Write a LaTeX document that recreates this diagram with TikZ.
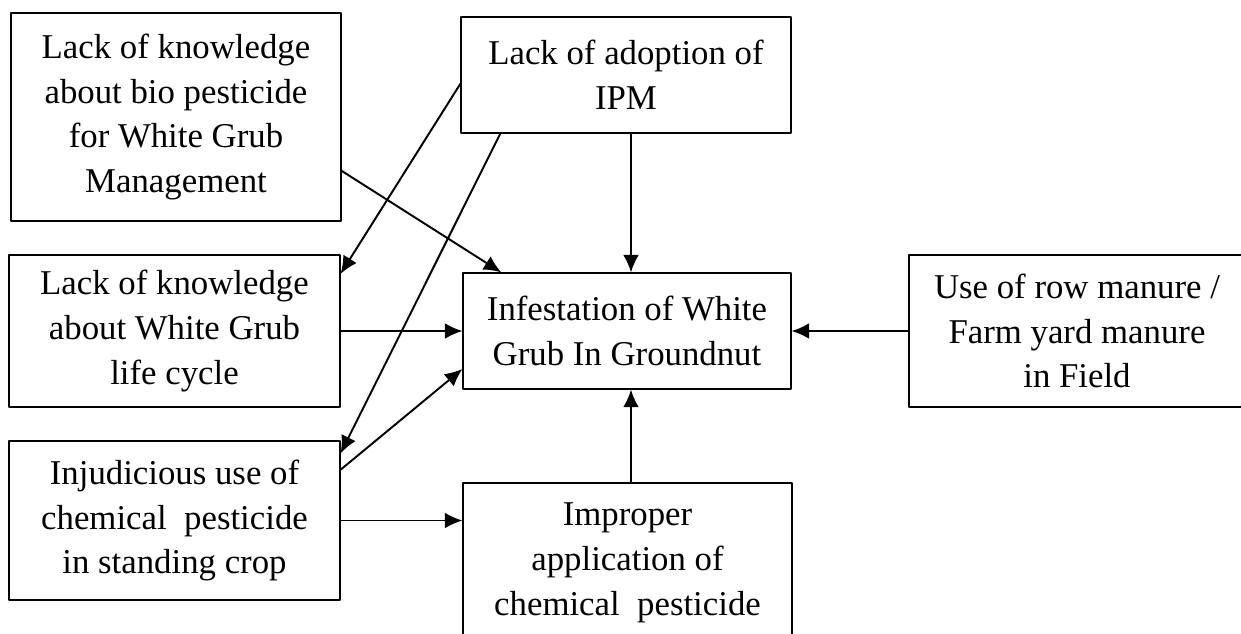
\documentclass[tikz,border=0pt]{standalone}
\usepackage{fontspec}
\setmainfont{Liberation Serif}
\usetikzlibrary{arrows.meta}

\begin{document}
\begin{tikzpicture}[x=0.02cm,y=-0.02cm,line cap=round,line join=round,
  >={Latex[length=10pt,width=9pt]},
  every node/.style={inner sep=0pt,font=\fontsize{19.8}{25.5}\selectfont},
  cause/.style={draw,line width=0.7pt,rectangle,align=center},
  link/.style={->,line width=1.1pt}]
  \useasboundingbox (0,0) rectangle (1241,633);
  \clip (0,0) rectangle (1241,633);
  % boxes
  \node[cause,minimum width=6.6cm,minimum height=4.16cm] (bio) at (176,117)
    {Lack of knowledge\\about bio pesticide\\for White Grub\\Management};
  \node[cause,minimum width=6.6cm,minimum height=2.32cm] (ipm) at (626,75)
    {Lack of adoption of\\IPM};
  \node[cause,minimum width=6.56cm,minimum height=2.32cm] (inf) at (627,331)
    {Infestation of White\\Grub In Groundnut};
  \node[cause,minimum width=6.62cm,minimum height=3.04cm] (life) at (174.5,331)
    {Lack of knowledge\\about White Grub\\life cycle};
  \node[cause,minimum width=6.62cm,minimum height=3.18cm] (inj) at (174.5,520.5)
    {Injudicious use of\\chemical~ pesticide\\in standing crop};
  \node[cause,minimum width=6.58cm,minimum height=3.2cm] (imp) at (627.5,563)
    {Improper\\application of\\chemical~ pesticide};
  \node[cause,minimum width=6.72cm,minimum height=3.04cm] (fym) at (1077,331)
    {Use of row manure /\\Farm yard manure\\in Field};
  % arrows
  \draw[link] (bio.-18.7) -- (inf.155);
  \draw[link] (ipm.-177.6) -- (life.19.4);
  \draw[link] (ipm.-155.8) -- (inj.22.2);
  \draw[link] ([xshift=0.1cm]ipm.south) -- ([xshift=0.08cm]inf.north);
  \draw[link] (life.east) -- (life.east -| inf.west);
  \draw[link] (inj.17.9) -- (inf.-167.4);
  \draw[link] (inj.east) -- (inj.east -| imp.west);
  \draw[link] ([xshift=0.07cm]imp.north) -- ([xshift=0.08cm]inf.south);
  \draw[link] (fym.west) -- (inf.east);
\end{tikzpicture}
\end{document}
